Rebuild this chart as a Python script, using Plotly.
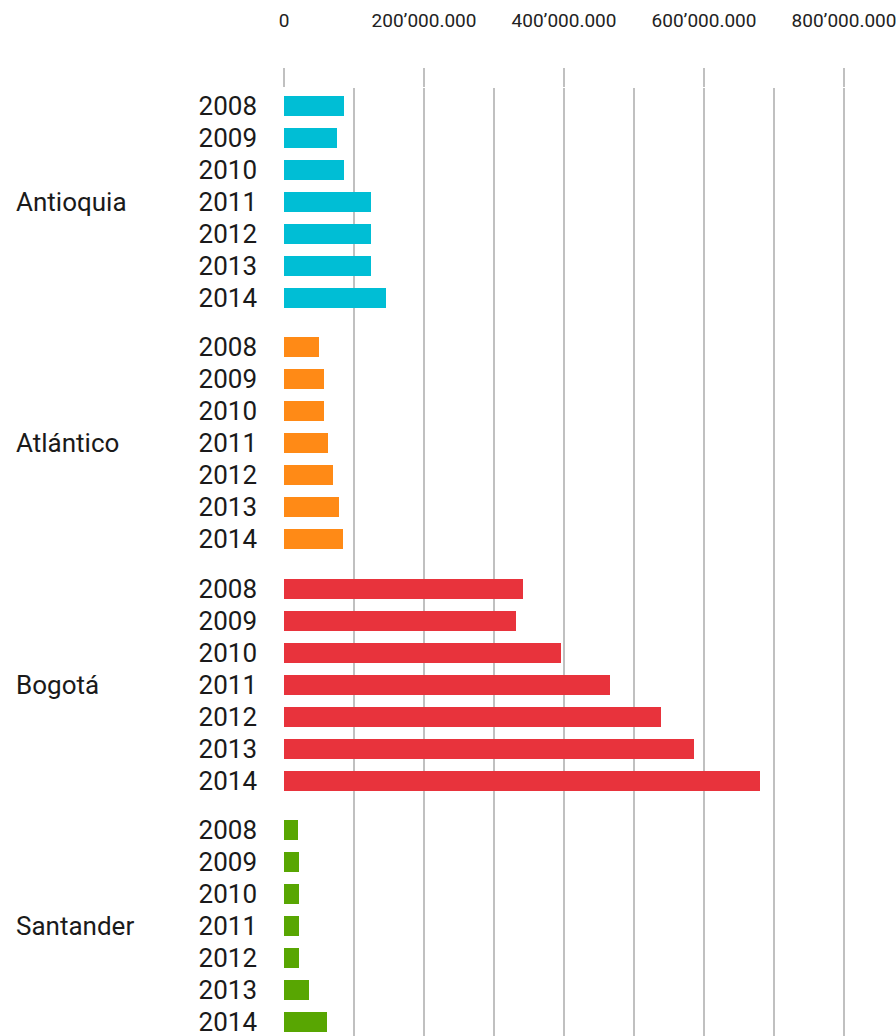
import plotly.graph_objects as go

# Annual values per department
years = ["2008", "2009", "2010", "2011", "2012", "2013", "2014"]
departments = ["Antioquia", "Atlántico", "Bogotá", "Santander"]
antioquia = [86000, 76000, 86000, 124000, 124000, 124000, 146000]
atlantico = [50000, 57000, 57000, 63000, 70000, 79000, 84000]
bogota = [341000, 332000, 395000, 466000, 539000, 585000, 680000]
santander = [20000, 21500, 21500, 21500, 21500, 36000, 61500]
series = [antioquia, atlantico, bogota, santander]
colors = ["#00BED5", "#FF8A16", "#E8333C", "#58A602"]

x_ticks = [0, 200000, 400000, 600000, 800000]
x_ticktext = ["0", "200’000.000", "400’000.000", "600’000.000", "800’000.000"]

GROUP_STEP = len(years) - 1 + 1.54  # rows between first bars of consecutive groups
GRID = "#C0C0C0"

fig = go.Figure()
tickvals, ticktext = [], []
for gi, (name, vals, col) in enumerate(zip(departments, series, colors)):
    pos = [gi * GROUP_STEP + j for j in range(len(years))]
    tickvals += pos
    ticktext += years
    fig.add_trace(go.Bar(
        x=vals, y=pos, orientation="h", width=0.625,
        marker=dict(color=col, line=dict(width=0)),
        name=name, showlegend=False,
    ))
    fig.add_annotation(
        text=name, xref="paper", x=0, xanchor="left", xshift=-270,
        yref="y", y=pos[3], showarrow=False,
        font=dict(family="Roboto, sans-serif", size=26, color="#1a1a1a"),
    )

last = 3 * GROUP_STEP + len(years) - 1
fig.update_layout(
    width=896, height=1036,
    margin=dict(l=284, r=10, t=88, b=0),
    paper_bgcolor="white", plot_bgcolor="white",
    bargap=0,
    font=dict(family="Roboto, sans-serif", color="#1a1a1a"),
    xaxis=dict(
        side="top", range=[0, 860000],
        tickvals=x_ticks, ticktext=x_ticktext,
        tickfont=dict(size=19, color="#222222"),
        ticks="outside", ticklen=19, tickwidth=1.5, tickcolor=GRID,
        ticklabelstandoff=33, ticklabeloverflow="allow",
        showgrid=True, gridcolor=GRID, gridwidth=1.5,
        zeroline=False, showline=False,
        minor=dict(dtick=100000, tick0=0, showgrid=True,
                   gridcolor=GRID, gridwidth=1.5, ticks="", ticklen=0),
    ),
    yaxis=dict(
        range=[last + 0.44, -0.5625],
        tickvals=tickvals, ticktext=ticktext,
        tickfont=dict(size=26, color="#1a1a1a"),
        ticklabelstandoff=26, ticklabeloverflow="allow",
        showgrid=False, zeroline=False, showline=False, ticks="",
    ),
)

fig.write_html("out.html")
